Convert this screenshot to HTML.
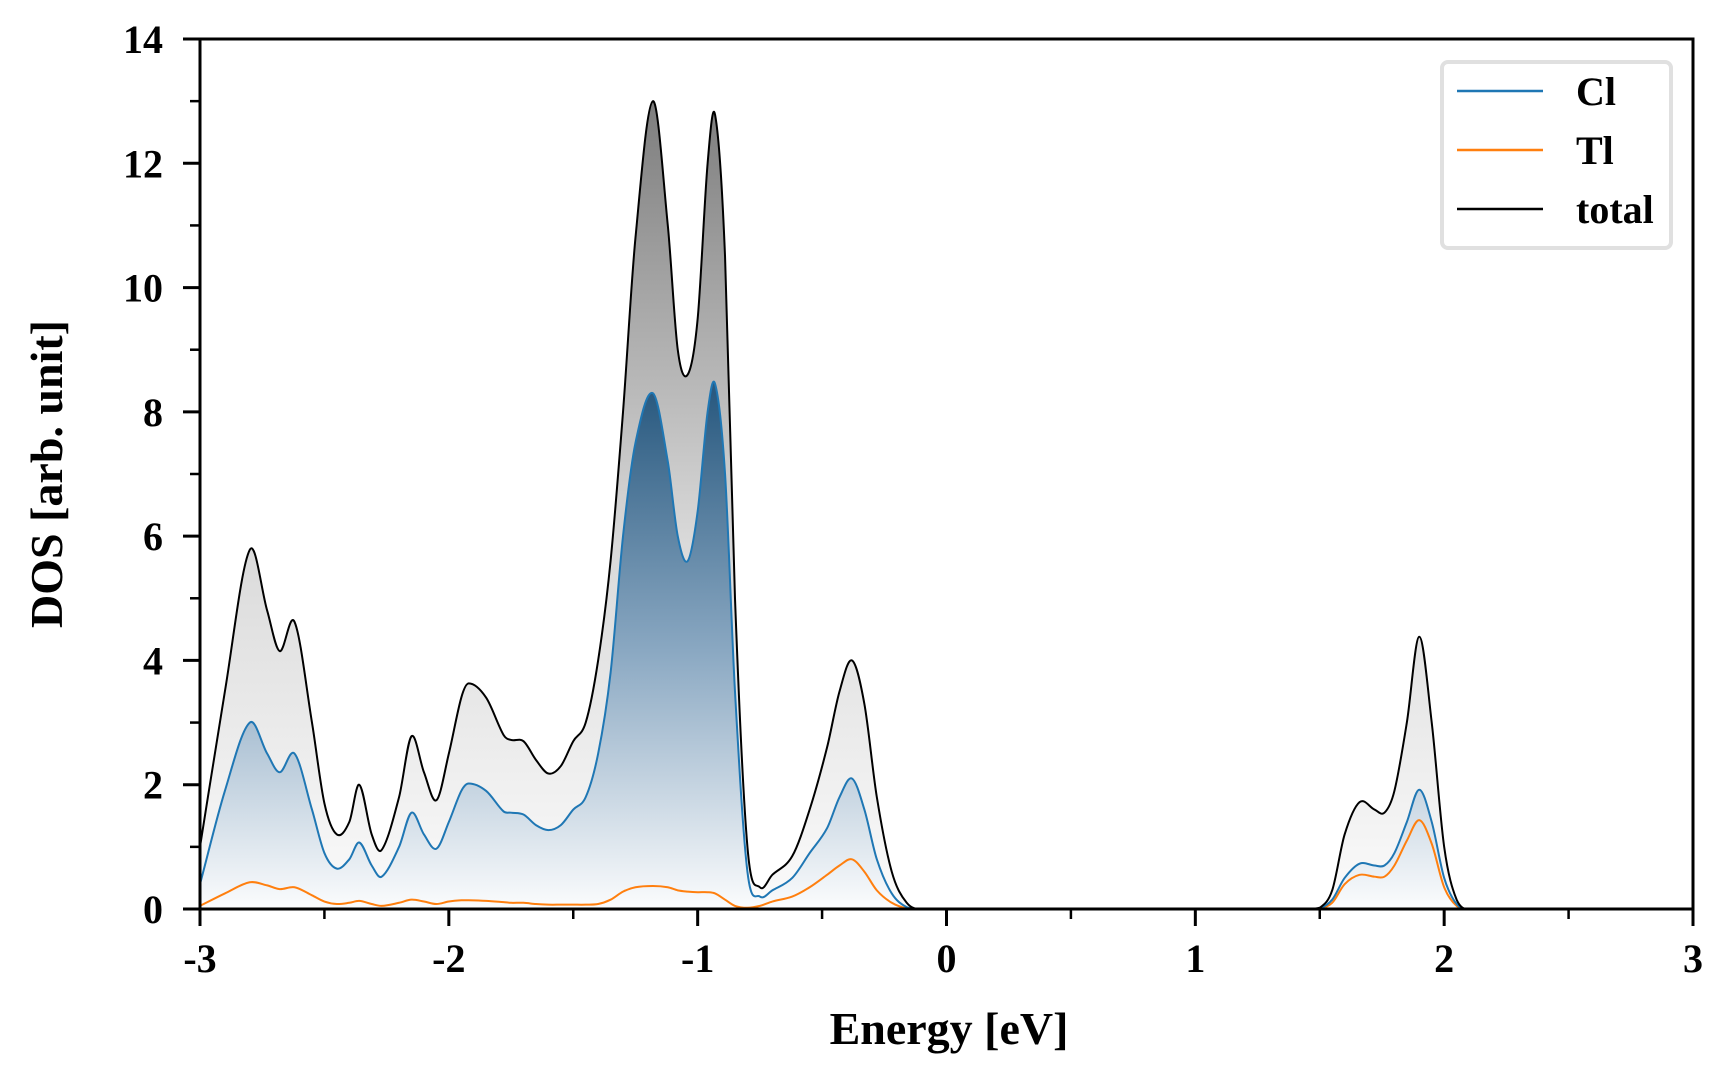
<!DOCTYPE html>
<html><head><meta charset="utf-8"><style>
html,body{margin:0;padding:0;background:#fff;}
svg{display:block;font-family:"Liberation Serif",serif;font-weight:bold;}
</style></head><body>
<svg id="chart" width="1728" height="1080" viewBox="0 0 1728 1080" xmlns="http://www.w3.org/2000/svg">
<defs>
<linearGradient id="gTot" gradientUnits="userSpaceOnUse" x1="0" y1="101" x2="0" y2="909">
<stop offset="0" stop-color="#7d7d7d"/><stop offset="0.55" stop-color="#dadada"/><stop offset="1" stop-color="#fbfbfb"/>
</linearGradient>
<linearGradient id="gCl" gradientUnits="userSpaceOnUse" x1="0" y1="393" x2="0" y2="909">
<stop offset="0" stop-color="#2a5a80"/><stop offset="0.5" stop-color="#8aa8c2"/><stop offset="1" stop-color="#fbfcfd"/>
</linearGradient>
</defs>
<g id="plot"></g>
<g id="axes"></g>
<text x="949" y="1044" font-size="46" text-anchor="middle">Energy [eV]</text>
<text transform="translate(62,474) rotate(-90)" font-size="46" text-anchor="middle">DOS [arb. unit]</text>
<g>
<rect x="1442" y="62" width="229" height="186" rx="6" fill="#fff" stroke="#e0e0e0" stroke-width="4"/>
<line x1="1457" y1="91" x2="1543" y2="91" stroke="#1f77b4" stroke-width="2.5"/>
<text x="1576" y="105" font-size="40">Cl</text>
<line x1="1457" y1="150" x2="1543" y2="150" stroke="#ff7f0e" stroke-width="2.5"/>
<text x="1576" y="164" font-size="40">Tl</text>
<line x1="1457" y1="209" x2="1543" y2="209" stroke="#000" stroke-width="2.5"/>
<text x="1576" y="223" font-size="40">total</text>
</g>
</svg>
<script>
const energies = [-3.0,-2.9,-2.8,-2.73,-2.68,-2.62,-2.55,-2.5,-2.45,-2.4,-2.36,-2.31,-2.27,-2.2,-2.15,-2.1,-2.05,-2.0,-1.95,-1.92,-1.85,-1.78,-1.75,-1.7,-1.65,-1.6,-1.55,-1.5,-1.45,-1.4,-1.35,-1.3,-1.25,-1.18,-1.12,-1.08,-1.04,-1.0,-0.96,-0.93,-0.89,-0.85,-0.8,-0.75,-0.7,-0.62,-0.55,-0.48,-0.43,-0.38,-0.33,-0.28,-0.22,-0.16,-0.1,1.45,1.5,1.55,1.6,1.66,1.72,1.76,1.8,1.85,1.9,1.95,2.0,2.05,2.1,3.0];
const totalDos = [1.0,3.5,5.78,4.8,4.15,4.62,3.0,1.7,1.2,1.4,2.0,1.2,0.95,1.8,2.78,2.2,1.75,2.5,3.4,3.63,3.4,2.8,2.72,2.7,2.4,2.18,2.3,2.7,3.0,4.0,5.6,8.0,10.8,13.0,11.0,9.0,8.6,9.5,12.0,12.78,10.5,5.0,1.0,0.35,0.55,0.85,1.6,2.6,3.5,4.0,3.3,1.8,0.6,0.1,0.0,0,0.02,0.3,1.2,1.72,1.6,1.55,1.9,3.0,4.38,3.0,1.0,0.15,0,0];
const clDos = [0.4,1.9,3.0,2.5,2.2,2.5,1.6,0.9,0.65,0.8,1.07,0.7,0.52,1.0,1.55,1.2,0.97,1.4,1.9,2.02,1.9,1.57,1.55,1.52,1.35,1.27,1.35,1.6,1.8,2.5,3.8,6.0,7.5,8.3,7.2,6.0,5.6,6.4,8.0,8.45,7.0,3.5,0.6,0.2,0.3,0.5,0.9,1.3,1.8,2.1,1.6,0.8,0.25,0.03,0,0,0.01,0.15,0.5,0.73,0.7,0.7,0.9,1.4,1.92,1.4,0.5,0.08,0,0];
const tlDos = [0.05,0.25,0.43,0.38,0.32,0.35,0.22,0.12,0.08,0.1,0.13,0.08,0.05,0.1,0.15,0.12,0.08,0.12,0.14,0.14,0.13,0.11,0.1,0.1,0.08,0.07,0.07,0.07,0.07,0.08,0.15,0.28,0.35,0.37,0.35,0.3,0.28,0.27,0.27,0.25,0.15,0.05,0.02,0.05,0.12,0.2,0.35,0.55,0.7,0.8,0.6,0.3,0.1,0.01,0,0,0.01,0.1,0.4,0.55,0.52,0.52,0.7,1.1,1.43,1.05,0.35,0.05,0,0];
const xTicks = [-3,-2,-1,0,1,2,3];
const xTickLabels = ["-3","-2","-1","0","1","2","3"];
const yTicks = [0,2,4,6,8,10,12,14];
const yTickLabels = ["0","2","4","6","8","10","12","14"];

const L=200,R=1693,T=39,B=909;
const xs = e => L + (e+3)/6*(R-L);
const ys = v => B - v/14*(B-T);
const NS="http://www.w3.org/2000/svg";
function mk(tag, attrs, parent){const el=document.createElementNS(NS,tag);for(const k in attrs)el.setAttribute(k,attrs[k]);parent.appendChild(el);return el;}

function smoothPath(xv, yv){
  const n=xv.length, px=xv.map(xs), py=yv.map(ys);
  const m=new Array(n);
  for(let i=0;i<n;i++){
    const a=Math.max(0,i-1), b=Math.min(n-1,i+1);
    m[i]=(py[b]-py[a])/(px[b]-px[a]);
    if(py[i]>=B-0.01) m[i]=0;
  }
  let s="M"+px[0].toFixed(2)+","+py[0].toFixed(2);
  for(let i=0;i<n-1;i++){const h=px[i+1]-px[i];
    const c1=Math.min(B,py[i]+m[i]*h/3), c2=Math.min(B,py[i+1]-m[i+1]*h/3);
    s+=" C"+(px[i]+h/3).toFixed(2)+","+c1.toFixed(2)+" "+(px[i+1]-h/3).toFixed(2)+","+c2.toFixed(2)+" "+px[i+1].toFixed(2)+","+py[i+1].toFixed(2);}
  return s;
}
const plot=document.getElementById('plot');
const pT=smoothPath(energies,totalDos), pC=smoothPath(energies,clDos), pTl=smoothPath(energies,tlDos);
const close=" L"+xs(energies[energies.length-1])+","+B+" L"+xs(energies[0])+","+B+" Z";
const f1=mk('path',{d:pT+close,fill:'url(#gTot)'},plot);


const f2=mk('path',{d:pC+close,fill:'url(#gCl)'},plot);


const l1=mk('path',{d:pTl,fill:'none',stroke:'#ff7f0e','stroke-width':2},plot);


const l2=mk('path',{d:pC,fill:'none',stroke:'#1f77b4','stroke-width':2},plot);


const l3=mk('path',{d:pT,fill:'none',stroke:'#000','stroke-width':2},plot);



const axes=document.getElementById('axes');
const fr=mk('rect',{x:L,y:T,width:R-L,height:B-T,fill:'none',stroke:'#000','stroke-width':3},axes);


xTicks.forEach((v,i)=>{
  const t=mk('line',{x1:xs(v),y1:B,x2:xs(v),y2:B+17,stroke:'#000','stroke-width':3},axes);
  
  
  const tx=mk('text',{x:xs(v),y:972,'font-size':40,'text-anchor':'middle'},axes);
  tx.textContent=xTickLabels[i];
  
  
  if(i<xTicks.length-1){const mn=mk('line',{x1:xs(v+0.5),y1:B,x2:xs(v+0.5),y2:B+10,stroke:'#000','stroke-width':2.5},axes);
    
    }
});
yTicks.forEach((v,i)=>{
  const t=mk('line',{x1:L-17,y1:ys(v),x2:L,y2:ys(v),stroke:'#000','stroke-width':3},axes);
  
  
  const tx=mk('text',{x:163,y:ys(v)+14,'font-size':40,'text-anchor':'end'},axes);
  tx.textContent=yTickLabels[i];
  
  
  if(i<yTicks.length-1){const mn=mk('line',{x1:L-10,y1:ys(v+1),x2:L,y2:ys(v+1),stroke:'#000','stroke-width':2.5},axes);
    
    }
});
</script>
</body></html>
